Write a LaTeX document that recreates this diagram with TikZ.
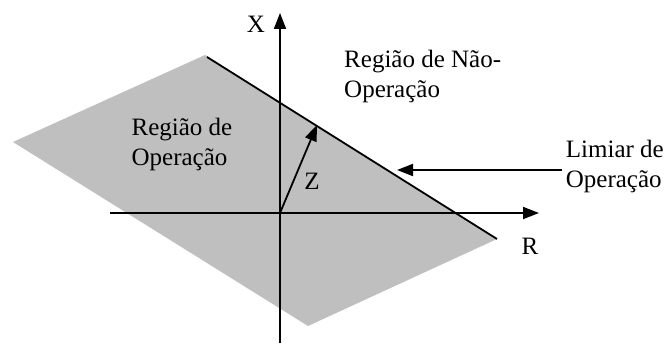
\documentclass[tikz,border=0pt]{standalone}
\usepackage{fontspec}
\setmainfont{Liberation Serif}
\usetikzlibrary{arrows.meta}

\begin{document}
\begin{tikzpicture}[x=1pt, y=-1pt, line width=1.8pt, font=\fontsize{25}{30}\selectfont]
        \useasboundingbox (0,0) rectangle (664,347);
        % regiao de operacao
        \fill[gray!50] (13,142) -- (205,55) -- (497,239) -- (308,326) -- cycle;
        \coordinate (top) at (207,57);
        \coordinate (right) at (497,239);
        \draw (top) -- (right);

        \coordinate (o) at (280,213);
        \coordinate (xlow) at (280,343);
        \coordinate (xtip) at (280,13);
        \coordinate (rlow) at (110,213);
        \coordinate (rtip) at (539,213);
        \coordinate (ztip) at (317,125);
        \coordinate (limtip) at (397,170);
        \draw[-{Triangle[length=16pt, width=12pt]}] (xlow) -- (xtip);
        \draw[-{Triangle[length=16pt, width=12pt]}] (rlow) -- (rtip);
        \draw[-{Triangle[length=16pt, width=12pt]}] (o) -- (ztip);

        \node (xlab) at (256,24) {X};
        \node (rlab) at (530,246) {R};
        \node (zlab) at (312,181) {Z};
        \node (op) [align=left] at (182,144) {Região de\\Operação};
        \node (nop) [align=left, anchor=west] at (340,76) {Região de Não-\\Operação};
        \node (lim) [align=left, anchor=east] at (668,166) {Limiar de\\Operação};
        \draw[-{Triangle[length=16pt, width=12pt]}] ([yshift=-4pt]lim.west) -- (limtip);
    \end{tikzpicture}
\end{document}
